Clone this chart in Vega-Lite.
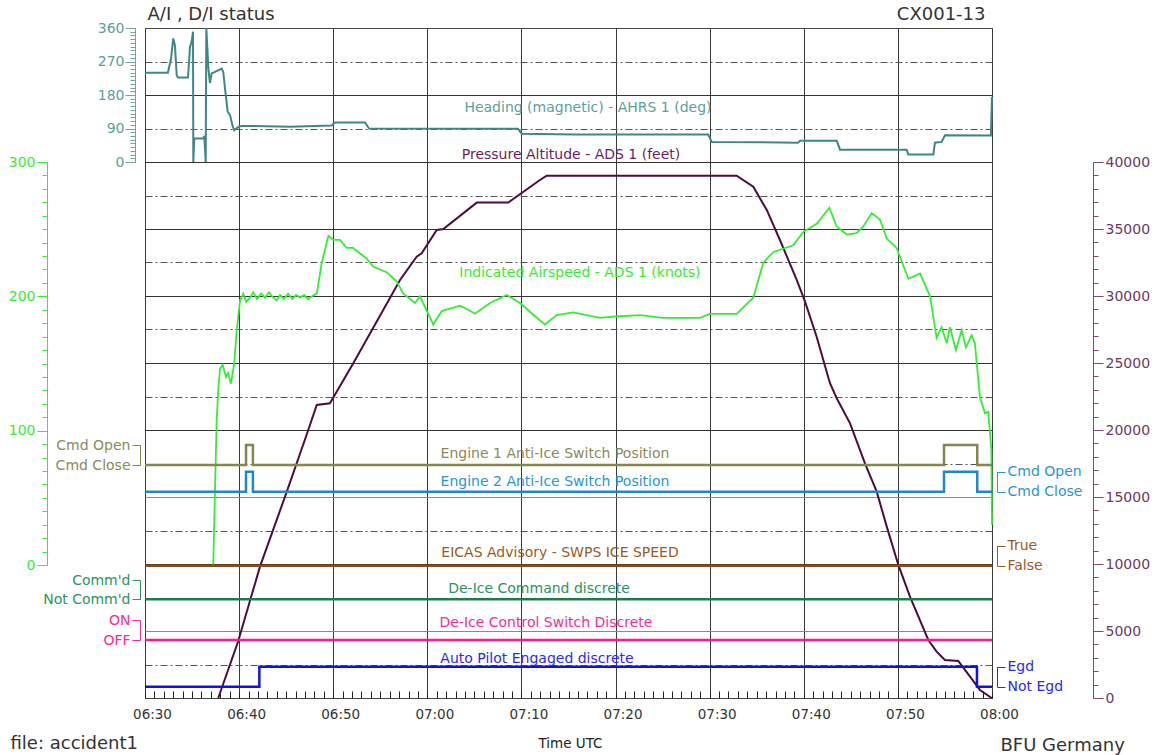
{
"$schema": "https://vega.github.io/schema/vega-lite/v6.json",
"width": 847, "height": 670,
"autosize": {"type": "none"},
"padding": {"left": 145, "top": 28, "right": 170, "bottom": 57},
"background": "white",
"data": {"format": {"parse": {"t": "utc:'%H:%M:%S'"}}, "values": [
{"s":"hdg","t":"06:30:00","v":240},{"s":"hdg","t":"06:32:26","v":240},{"s":"hdg","t":"06:32:46","v":278},{"s":"hdg","t":"06:33:00","v":332},{"s":"hdg","t":"06:33:11","v":313},{"s":"hdg","t":"06:33:22","v":233},{"s":"hdg","t":"06:33:30","v":227},{"s":"hdg","t":"06:34:34","v":227},{"s":"hdg","t":"06:34:47","v":309},{"s":"hdg","t":"06:34:58","v":325},{"s":"hdg","t":"06:35:06","v":350},{"s":"hdg","t":"06:35:08","v":0},{"s":"hdg","t":"06:35:14","v":63},{"s":"hdg","t":"06:36:12","v":63},{"s":"hdg","t":"06:36:18","v":70},{"s":"hdg","t":"06:36:27","v":0},{"s":"hdg","t":"06:36:31","v":360},{"s":"hdg","t":"06:36:44","v":251},{"s":"hdg","t":"06:36:54","v":212},{"s":"hdg","t":"06:37:05","v":238},{"s":"hdg","t":"06:37:26","v":242},{"s":"hdg","t":"06:38:09","v":251},{"s":"hdg","t":"06:38:19","v":242},{"s":"hdg","t":"06:38:30","v":198},{"s":"hdg","t":"06:38:47","v":135},{"s":"hdg","t":"06:39:02","v":126},{"s":"hdg","t":"06:39:17","v":99},{"s":"hdg","t":"06:39:29","v":85},{"s":"hdg","t":"06:39:55","v":94},{"s":"hdg","t":"06:40:16","v":97},{"s":"hdg","t":"06:45:25","v":95},{"s":"hdg","t":"06:49:50","v":98},{"s":"hdg","t":"06:50:11","v":106},{"s":"hdg","t":"06:53:23","v":106},{"s":"hdg","t":"06:53:48","v":90},{"s":"hdg","t":"07:09:38","v":89},{"s":"hdg","t":"07:10:02","v":76},{"s":"hdg","t":"07:15:41","v":74},{"s":"hdg","t":"07:29:51","v":74},{"s":"hdg","t":"07:30:13","v":54},{"s":"hdg","t":"07:39:23","v":52},{"s":"hdg","t":"07:39:36","v":57},{"s":"hdg","t":"07:43:30","v":57},{"s":"hdg","t":"07:43:51","v":33},{"s":"hdg","t":"07:50:56","v":33},{"s":"hdg","t":"07:51:06","v":20},{"s":"hdg","t":"07:53:46","v":20},{"s":"hdg","t":"07:53:56","v":52},{"s":"hdg","t":"07:54:39","v":54},{"s":"hdg","t":"07:55:00","v":72},{"s":"hdg","t":"07:59:53","v":71},{"s":"hdg","t":"08:00:00","v":175},
{"s":"alt","t":"06:37:47","v":0},{"s":"alt","t":"06:39:53","v":4200},{"s":"alt","t":"06:42:13","v":9800},{"s":"alt","t":"06:45:04","v":15400},{"s":"alt","t":"06:47:21","v":20000},{"s":"alt","t":"06:48:15","v":21870},{"s":"alt","t":"06:49:39","v":22000},{"s":"alt","t":"06:52:08","v":24980},{"s":"alt","t":"06:57:06","v":31200},{"s":"alt","t":"06:58:52","v":32930},{"s":"alt","t":"06:59:24","v":33190},{"s":"alt","t":"07:01:00","v":34930},{"s":"alt","t":"07:01:42","v":35000},{"s":"alt","t":"07:05:15","v":36970},{"s":"alt","t":"07:08:36","v":36970},{"s":"alt","t":"07:11:58","v":38660},{"s":"alt","t":"07:12:41","v":38980},{"s":"alt","t":"07:32:52","v":38980},{"s":"alt","t":"07:34:38","v":38160},{"s":"alt","t":"07:36:04","v":36420},{"s":"alt","t":"07:37:28","v":34180},{"s":"alt","t":"07:39:15","v":31200},{"s":"alt","t":"07:40:08","v":29580},{"s":"alt","t":"07:41:22","v":26960},{"s":"alt","t":"07:42:47","v":23490},{"s":"alt","t":"07:43:30","v":22370},{"s":"alt","t":"07:44:55","v":20500},{"s":"alt","t":"07:46:30","v":17510},{"s":"alt","t":"07:47:45","v":15400},{"s":"alt","t":"07:48:49","v":12790},{"s":"alt","t":"07:50:03","v":9930},{"s":"alt","t":"07:51:17","v":7560},{"s":"alt","t":"07:53:14","v":4330},{"s":"alt","t":"07:54:07","v":3460},{"s":"alt","t":"07:55:00","v":2840},{"s":"alt","t":"07:56:25","v":2760},{"s":"alt","t":"07:57:40","v":1590},{"s":"alt","t":"07:58:43","v":600},{"s":"alt","t":"07:59:58","v":0},
{"s":"ias","t":"06:37:15","v":0},{"s":"ias","t":"06:37:26","v":54},{"s":"ias","t":"06:37:37","v":108},{"s":"ias","t":"06:37:47","v":130},{"s":"ias","t":"06:37:58","v":146},{"s":"ias","t":"06:38:15","v":149},{"s":"ias","t":"06:38:36","v":140},{"s":"ias","t":"06:38:49","v":143},{"s":"ias","t":"06:39:08","v":135},{"s":"ias","t":"06:39:29","v":150},{"s":"ias","t":"06:39:45","v":175},{"s":"ias","t":"06:40:06","v":197},{"s":"ias","t":"06:40:27","v":202},{"s":"ias","t":"06:40:45","v":196},{"s":"ias","t":"06:41:10","v":199},{"s":"ias","t":"06:41:30","v":203},{"s":"ias","t":"06:41:54","v":198},{"s":"ias","t":"06:42:20","v":202},{"s":"ias","t":"06:42:45","v":199},{"s":"ias","t":"06:43:10","v":203},{"s":"ias","t":"06:43:30","v":200},{"s":"ias","t":"06:44:00","v":197},{"s":"ias","t":"06:44:21","v":201},{"s":"ias","t":"06:44:45","v":198},{"s":"ias","t":"06:45:12","v":202},{"s":"ias","t":"06:45:40","v":198},{"s":"ias","t":"06:46:03","v":201},{"s":"ias","t":"06:46:30","v":199},{"s":"ias","t":"06:46:54","v":201},{"s":"ias","t":"06:47:20","v":198},{"s":"ias","t":"06:47:45","v":200},{"s":"ias","t":"06:48:15","v":202},{"s":"ias","t":"06:48:47","v":225},{"s":"ias","t":"06:49:29","v":245},{"s":"ias","t":"06:50:01","v":242},{"s":"ias","t":"06:50:43","v":242},{"s":"ias","t":"06:51:26","v":236},{"s":"ias","t":"06:52:06","v":236},{"s":"ias","t":"06:53:34","v":228},{"s":"ias","t":"06:54:16","v":222},{"s":"ias","t":"06:55:41","v":218},{"s":"ias","t":"06:56:45","v":211},{"s":"ias","t":"06:57:27","v":202},{"s":"ias","t":"06:58:41","v":195},{"s":"ias","t":"06:59:13","v":200},{"s":"ias","t":"07:00:38","v":179},{"s":"ias","t":"07:01:32","v":189},{"s":"ias","t":"07:03:28","v":193},{"s":"ias","t":"07:04:20","v":190},{"s":"ias","t":"07:05:04","v":187},{"s":"ias","t":"07:06:40","v":195},{"s":"ias","t":"07:08:26","v":201},{"s":"ias","t":"07:09:51","v":195},{"s":"ias","t":"07:11:58","v":182},{"s":"ias","t":"07:12:30","v":179},{"s":"ias","t":"07:13:45","v":186},{"s":"ias","t":"07:15:31","v":188},{"s":"ias","t":"07:18:21","v":184},{"s":"ias","t":"07:20:00","v":185},{"s":"ias","t":"07:22:36","v":186},{"s":"ias","t":"07:25:00","v":184},{"s":"ias","t":"07:28:58","v":184},{"s":"ias","t":"07:30:02","v":187},{"s":"ias","t":"07:32:52","v":187},{"s":"ias","t":"07:34:38","v":199},{"s":"ias","t":"07:35:42","v":225},{"s":"ias","t":"07:36:46","v":233},{"s":"ias","t":"07:38:53","v":238},{"s":"ias","t":"07:39:57","v":248},{"s":"ias","t":"07:41:22","v":254},{"s":"ias","t":"07:42:43","v":266},{"s":"ias","t":"07:43:30","v":252},{"s":"ias","t":"07:44:34","v":246},{"s":"ias","t":"07:45:37","v":247},{"s":"ias","t":"07:46:20","v":252},{"s":"ias","t":"07:47:13","v":262},{"s":"ias","t":"07:48:06","v":257},{"s":"ias","t":"07:48:49","v":243},{"s":"ias","t":"07:49:52","v":236},{"s":"ias","t":"07:51:07","v":213},{"s":"ias","t":"07:52:21","v":217},{"s":"ias","t":"07:53:25","v":200},{"s":"ias","t":"07:54:07","v":169},{"s":"ias","t":"07:54:39","v":177},{"s":"ias","t":"07:55:11","v":165},{"s":"ias","t":"07:55:32","v":177},{"s":"ias","t":"07:56:10","v":160},{"s":"ias","t":"07:56:47","v":175},{"s":"ias","t":"07:57:14","v":162},{"s":"ias","t":"07:57:50","v":171},{"s":"ias","t":"07:58:11","v":165},{"s":"ias","t":"07:58:43","v":125},{"s":"ias","t":"07:59:15","v":113},{"s":"ias","t":"07:59:36","v":114},{"s":"ias","t":"07:59:56","v":86},{"s":"ias","t":"08:00:00","v":30},
{"s":"e1","t":"06:30:00","v":0},{"s":"e1","t":"06:40:44","v":1},{"s":"e1","t":"06:41:28","v":0},{"s":"e1","t":"07:54:54","v":1},{"s":"e1","t":"07:58:26","v":0},{"s":"e1","t":"08:00:00","v":0},
{"s":"e2","t":"06:30:00","v":0},{"s":"e2","t":"06:40:44","v":1},{"s":"e2","t":"06:41:28","v":0},{"s":"e2","t":"07:54:54","v":1},{"s":"e2","t":"07:58:26","v":0},{"s":"e2","t":"08:00:00","v":0},
{"s":"eicas","t":"06:30:00","v":0},{"s":"eicas","t":"08:00:00","v":0},
{"s":"dcmd","t":"06:30:00","v":0},{"s":"dcmd","t":"08:00:00","v":0},
{"s":"dctl","t":"06:30:00","v":0},{"s":"dctl","t":"08:00:00","v":0},
{"s":"ap","t":"06:30:00","v":0},{"s":"ap","t":"06:42:09","v":1},{"s":"ap","t":"07:58:24","v":0},{"s":"ap","t":"08:00:00","v":0}
]},
"layer": [
{
 "transform": [{"filter": "datum.s === 'e1'"}],
 "mark": {"type": "point", "opacity": 0},
 "encoding": {
  "x": {"field": "t", "type": "temporal", "scale": {"type": "utc", "nice": false, "domain": [{"year":1900,"month":1,"date":1,"hours":6,"minutes":30,"utc":true},{"year":1900,"month":1,"date":1,"hours":8,"minutes":0,"utc":true}]},
   "axis": {"orient": "bottom", "tickCount": 45, "ticks": true, "tickSize": -7, "tickColor": "#222", "tickWidth": 1, "labelPadding": 16, "labelExpr": "utcminutes(datum.value) % 10 === 0 ? utcFormat(datum.value, '%H:%M') : ''", "labelFlush": false, "labelOverlap": false, "labelBound": false, "labelOffset": 7, "labelFontSize": 13.5, "labelColor": "#333", "grid": true, "gridColor": "#3a3a3a", "gridOpacity": {"condition": {"test": "utcminutes(datum.value) % 10 === 0", "value": 1}, "value": 0}, "domain": false, "title": "Time UTC", "titleX": 425, "titleY": 45, "titleAlign": "center", "titleBaseline": "middle", "titleFontSize": 13.5, "titleFontWeight": "normal", "titleColor": "#222"}},
  "y": {"datum": 0, "type": "quantitative", "scale": {"domain": [0, 20], "nice": false},
   "axis": {"orient": "left", "values": [4,8,10,12,14,16,18], "grid": true, "ticks": false, "labels": false, "domain": false, "title": null, "gridColor": "#333", "gridWidth": 1}}
 }
},
{
 "transform": [{"filter": "datum.s === 'e1'"}],
 "mark": {"type": "point", "opacity": 0},
 "encoding": {
  "x": {"field": "t", "type": "temporal", "scale": {"type": "utc", "nice": false, "domain": [{"year":1900,"month":1,"date":1,"hours":6,"minutes":30,"utc":true},{"year":1900,"month":1,"date":1,"hours":8,"minutes":0,"utc":true}]}, "axis": null},
  "y": {"datum": 0, "type": "quantitative", "scale": {"domain": [0, 20], "nice": false},
   "axis": {"orient": "left", "values": [2,6], "grid": true, "ticks": false, "labels": false, "domain": false, "title": null, "gridColor": "#8a8a8a", "gridWidth": 1}}
 }
},
{
 "transform": [{"filter": "datum.s === 'e1'"}],
 "mark": {"type": "point", "opacity": 0},
 "encoding": {
  "x": {"field": "t", "type": "temporal", "scale": {"type": "utc", "nice": false, "domain": [{"year":1900,"month":1,"date":1,"hours":6,"minutes":30,"utc":true},{"year":1900,"month":1,"date":1,"hours":8,"minutes":0,"utc":true}]}, "axis": null},
  "y": {"datum": 0, "type": "quantitative", "scale": {"domain": [0, 20], "nice": false},
   "axis": {"orient": "left", "values": [1,3,5,7,9,11,13,15,17,19], "grid": true, "ticks": false, "labels": false, "domain": false, "title": null, "gridColor": "#555", "gridDash": [7, 3, 2, 3], "gridWidth": 1}}
 }
},
{"transform": [{"filter": "datum.s === 'hdg'"}],
 "mark": {"type": "line", "color": "#3f8785", "strokeWidth": 2},
 "encoding": {
  "x": {"field": "t", "type": "temporal", "scale": {"type": "utc", "nice": false, "domain": [{"year":1900,"month":1,"date":1,"hours":6,"minutes":30,"utc":true},{"year":1900,"month":1,"date":1,"hours":8,"minutes":0,"utc":true}]},
   "axis": {"orient": "top", "title": "CX001-13", "labels": false, "ticks": false, "domain": false, "grid": false, "titleX": 840, "titleY": -14, "titleAlign": "right", "titleBaseline": "middle", "titleFontSize": 18, "titleFontWeight": "normal", "titleColor": "#333"}},
  "y": {"field": "v", "type": "quantitative", "scale": {"domain": [0, 360], "range": [134, 0], "nice": false, "zero": false},
   "axis": {"orient": "left", "offset": 10, "title": null, "grid": false, "values": [0,90,180,270,360], "tickSize": 10, "labelPadding": 1, "labelOverlap": false, "labelFlush": false, "labelBound": false, "labelFontSize": 14, "domainColor": "#6aa6a4", "tickColor": "#6aa6a4", "labelColor": "#5f9e9c"}}
 }},
{"data": {"values": [{}]},
 "mark": {"type": "text", "text": "Heading (magnetic) - AHRS 1 (deg)", "color": "#5aa19e", "fontSize": 14, "font": "DejaVu Sans", "align": "center", "baseline": "middle"},
 "encoding": {"x": {"datum": {"year":1900,"month":1,"date":1,"hours":7,"minutes":17,"seconds":4,"utc":true}, "type": "temporal", "scale": {"type": "utc"}, "axis": null},
  "y": {"datum": 145, "type": "quantitative", "scale": {"domain": [0, 360], "range": [134, 0], "nice": false, "zero": false},
   "axis": {"orient": "left", "offset": 10, "title": null, "grid": false, "domain": false, "labels": false, "values": [0,10,20,30,40,50,60,70,80,90,100,110,120,130,140,150,160,170,180,190,200,210,220,230,240,250,260,270,280,290,300,310,320,330,340,350,360], "tickSize": 5, "tickColor": "#6aa6a4"}}}},
{"transform": [{"filter": "datum.s === 'alt'"}],
 "mark": {"type": "line", "color": "#4b0c40", "strokeWidth": 2},
 "encoding": {
  "x": {"field": "t", "type": "temporal", "scale": {"type": "utc", "nice": false, "domain": [{"year":1900,"month":1,"date":1,"hours":6,"minutes":30,"utc":true},{"year":1900,"month":1,"date":1,"hours":8,"minutes":0,"utc":true}]},
   "axis": {"orient": "bottom", "title": "BFU Germany", "labels": false, "ticks": false, "domain": false, "grid": false, "titleX": 855, "titleY": 47, "titleAlign": "left", "titleBaseline": "middle", "titleFontSize": 18, "titleFontWeight": "normal", "titleColor": "#333"}},
  "y": {"field": "v", "type": "quantitative", "scale": {"domain": [0, 40000], "range": [670, 134], "nice": false, "zero": false},
   "axis": {"orient": "right", "offset": 101, "title": null, "grid": false, "values": [0,5000,10000,15000,20000,25000,30000,35000,40000], "format": "d", "tickSize": 10, "labelPadding": 2, "labelOverlap": false, "labelFlush": false, "labelBound": false, "labelFontSize": 14, "domainColor": "#7a4a72", "tickColor": "#7a4a72", "labelColor": "#6b3a63"}}
 }},
{"data": {"values": [{}]},
 "mark": {"type": "text", "text": "Pressure Altitude - ADS 1 (feet)", "color": "#6a1f5e", "fontSize": 14, "font": "DejaVu Sans", "align": "center", "baseline": "middle"},
 "encoding": {"x": {"datum": {"year":1900,"month":1,"date":1,"hours":7,"minutes":15,"seconds":16,"utc":true}, "type": "temporal", "scale": {"type": "utc"}, "axis": null},
  "y": {"datum": 40520, "type": "quantitative", "scale": {"domain": [0, 40000], "range": [670, 134], "nice": false, "zero": false},
   "axis": {"orient": "right", "offset": 101, "title": null, "grid": false, "domain": false, "labels": false, "values": [0,1000,2000,3000,4000,5000,6000,7000,8000,9000,10000,11000,12000,13000,14000,15000,16000,17000,18000,19000,20000,21000,22000,23000,24000,25000,26000,27000,28000,29000,30000,31000,32000,33000,34000,35000,36000,37000,38000,39000,40000], "tickSize": 5, "tickColor": "#7a4a72"}}}},
{"transform": [{"filter": "datum.s === 'ias'"}],
 "mark": {"type": "line", "color": "#33ee33", "strokeWidth": 1.8},
 "encoding": {
  "x": {"field": "t", "type": "temporal", "scale": {"type": "utc", "nice": false, "domain": [{"year":1900,"month":1,"date":1,"hours":6,"minutes":30,"utc":true},{"year":1900,"month":1,"date":1,"hours":8,"minutes":0,"utc":true}]},
   "axis": {"orient": "bottom", "title": "file: accident1", "labels": false, "ticks": false, "domain": false, "grid": false, "titleX": -135, "titleY": 45, "titleAlign": "left", "titleBaseline": "middle", "titleFontSize": 18, "titleFontWeight": "normal", "titleColor": "#333"}},
  "y": {"field": "v", "type": "quantitative", "scale": {"domain": [0, 300], "range": [537, 134], "nice": false, "zero": false},
   "axis": {"orient": "left", "offset": 98, "title": null, "grid": false, "values": [0,100,200,300], "tickSize": 10, "labelPadding": 2, "labelOverlap": false, "labelFlush": false, "labelBound": false, "labelFontSize": 14, "domainColor": "#33ee33", "tickColor": "#33ee33", "labelColor": "#33ee33"}}
 }},
{"data": {"values": [{}]},
 "mark": {"type": "text", "text": "Indicated Airspeed - ADS 1 (knots)", "color": "#33ee33", "fontSize": 14, "font": "DejaVu Sans", "align": "center", "baseline": "middle"},
 "encoding": {"x": {"datum": {"year":1900,"month":1,"date":1,"hours":7,"minutes":16,"seconds":13,"utc":true}, "type": "temporal", "scale": {"type": "utc"}, "axis": null},
  "y": {"datum": 217, "type": "quantitative", "scale": {"domain": [0, 300], "range": [537, 134], "nice": false, "zero": false},
   "axis": {"orient": "left", "offset": 98, "title": null, "grid": false, "domain": false, "labels": false, "values": [0,10,20,30,40,50,60,70,80,90,100,110,120,130,140,150,160,170,180,190,200,210,220,230,240,250,260,270,280,290,300], "tickSize": 5, "tickColor": "#33ee33"}}}},
{"transform": [{"filter": "datum.s === 'e1'"}],
 "mark": {"type": "line", "color": "#868650", "strokeWidth": 2.5, "interpolate": "step-after"},
 "encoding": {
  "x": {"field": "t", "type": "temporal", "scale": {"type": "utc", "nice": false, "domain": [{"year":1900,"month":1,"date":1,"hours":6,"minutes":30,"utc":true},{"year":1900,"month":1,"date":1,"hours":8,"minutes":0,"utc":true}]},
   "axis": {"orient": "top", "title": "A/I , D/I status", "labels": false, "ticks": false, "domain": false, "grid": false, "titleX": 2, "titleY": -14, "titleAlign": "left", "titleBaseline": "middle", "titleFontSize": 18, "titleFontWeight": "normal", "titleColor": "#333"}},
  "y": {"field": "v", "type": "quantitative", "scale": {"domain": [0, 1], "range": [437, 417], "nice": false, "zero": false},
   "axis": {"orient": "left", "offset": 5, "title": null, "grid": false, "values": [0, 1], "labelExpr": "datum.value === 1 ? 'Cmd Open' : 'Cmd Close'", "tickSize": 8, "labelPadding": 2, "labelOverlap": false, "labelFlush": false, "labelBound": false, "labelFontSize": 14, "domainColor": "#868650", "tickColor": "#868650", "labelColor": "#8a8a5a"}}
 }},
{"data": {"values": [{}]},
 "mark": {"type": "text", "text": "Engine 1 Anti-Ice Switch Position", "color": "#8a8a5a", "fontSize": 14, "font": "DejaVu Sans", "align": "center", "baseline": "middle"},
 "encoding": {"x": {"datum": {"year":1900,"month":1,"date":1,"hours":7,"minutes":13,"seconds":34,"utc":true}, "type": "temporal", "scale": {"type": "utc"}, "axis": null},
  "y": {"datum": 0.55, "type": "quantitative", "scale": {"domain": [0, 1], "range": [437, 417], "nice": false, "zero": false}, "axis": null}}},
{"transform": [{"filter": "datum.s === 'e2'"}],
 "mark": {"type": "line", "color": "#1f88cc", "strokeWidth": 2.5, "interpolate": "step-after"},
 "encoding": {
  "x": {"field": "t", "type": "temporal", "scale": {"type": "utc", "nice": false, "domain": [{"year":1900,"month":1,"date":1,"hours":6,"minutes":30,"utc":true},{"year":1900,"month":1,"date":1,"hours":8,"minutes":0,"utc":true}]}, "axis": null},
  "y": {"field": "v", "type": "quantitative", "scale": {"domain": [0, 1], "range": [463.7, 443.7], "nice": false, "zero": false},
   "axis": {"orient": "right", "offset": 5, "title": null, "grid": false, "values": [0, 1], "labelExpr": "datum.value === 1 ? 'Cmd Open' : 'Cmd Close'", "tickSize": 8, "labelPadding": 2, "labelOverlap": false, "labelFlush": false, "labelBound": false, "labelFontSize": 14, "domainColor": "#2a95d8", "tickColor": "#2a95d8", "labelColor": "#2a95d8"}}
 }},
{"data": {"values": [{}]},
 "mark": {"type": "text", "text": "Engine 2 Anti-Ice Switch Position", "color": "#2a95d8", "fontSize": 14, "font": "DejaVu Sans", "align": "center", "baseline": "middle"},
 "encoding": {"x": {"datum": {"year":1900,"month":1,"date":1,"hours":7,"minutes":13,"seconds":34,"utc":true}, "type": "temporal", "scale": {"type": "utc"}, "axis": null},
  "y": {"datum": 0.49, "type": "quantitative", "scale": {"domain": [0, 1], "range": [463.7, 443.7], "nice": false, "zero": false}, "axis": null}}},
{"transform": [{"filter": "datum.s === 'eicas'"}],
 "mark": {"type": "line", "color": "#8b4c16", "strokeWidth": 2.5, "interpolate": "step-after"},
 "encoding": {
  "x": {"field": "t", "type": "temporal", "scale": {"type": "utc", "nice": false, "domain": [{"year":1900,"month":1,"date":1,"hours":6,"minutes":30,"utc":true},{"year":1900,"month":1,"date":1,"hours":8,"minutes":0,"utc":true}]}, "axis": null},
  "y": {"field": "v", "type": "quantitative", "scale": {"domain": [0, 1], "range": [537.7, 517.7], "nice": false, "zero": false},
   "axis": {"orient": "right", "offset": 5, "title": null, "grid": false, "values": [0, 1], "labelExpr": "datum.value === 1 ? 'True' : 'False'", "tickSize": 8, "labelPadding": 2, "labelOverlap": false, "labelFlush": false, "labelBound": false, "labelFontSize": 14, "domainColor": "#9b5a22", "tickColor": "#9b5a22", "labelColor": "#9b5a22"}}
 }},
{"data": {"values": [{}]},
 "mark": {"type": "text", "text": "EICAS Advisory - SWPS ICE SPEED", "color": "#9b5a22", "fontSize": 14, "font": "DejaVu Sans", "align": "center", "baseline": "middle"},
 "encoding": {"x": {"datum": {"year":1900,"month":1,"date":1,"hours":7,"minutes":14,"seconds":6,"utc":true}, "type": "temporal", "scale": {"type": "utc"}, "axis": null},
  "y": {"datum": 0.63, "type": "quantitative", "scale": {"domain": [0, 1], "range": [537.7, 517.7], "nice": false, "zero": false}, "axis": null}}},
{"transform": [{"filter": "datum.s === 'dcmd'"}],
 "mark": {"type": "line", "color": "#168048", "strokeWidth": 2.5, "interpolate": "step-after"},
 "encoding": {
  "x": {"field": "t", "type": "temporal", "scale": {"type": "utc", "nice": false, "domain": [{"year":1900,"month":1,"date":1,"hours":6,"minutes":30,"utc":true},{"year":1900,"month":1,"date":1,"hours":8,"minutes":0,"utc":true}]}, "axis": null},
  "y": {"field": "v", "type": "quantitative", "scale": {"domain": [0, 1], "range": [571.3, 552], "nice": false, "zero": false},
   "axis": {"orient": "left", "offset": 5, "title": null, "grid": false, "values": [0, 1], "labelExpr": "datum.value === 1 ? 'Comm\\'d' : 'Not Comm\\'d'", "tickSize": 8, "labelPadding": 2, "labelOverlap": false, "labelFlush": false, "labelBound": false, "labelFontSize": 14, "domainColor": "#2a9560", "tickColor": "#2a9560", "labelColor": "#2a9560"}}
 }},
{"data": {"values": [{}]},
 "mark": {"type": "text", "text": "De-Ice Command discrete", "color": "#2a9560", "fontSize": 14, "font": "DejaVu Sans", "align": "center", "baseline": "middle"},
 "encoding": {"x": {"datum": {"year":1900,"month":1,"date":1,"hours":7,"minutes":11,"seconds":52,"utc":true}, "type": "temporal", "scale": {"type": "utc"}, "axis": null},
  "y": {"datum": 0.53, "type": "quantitative", "scale": {"domain": [0, 1], "range": [571.3, 552], "nice": false, "zero": false}, "axis": null}}},
{"transform": [{"filter": "datum.s === 'dctl'"}],
 "mark": {"type": "line", "color": "#ff1a85", "strokeWidth": 2.5, "interpolate": "step-after"},
 "encoding": {
  "x": {"field": "t", "type": "temporal", "scale": {"type": "utc", "nice": false, "domain": [{"year":1900,"month":1,"date":1,"hours":6,"minutes":30,"utc":true},{"year":1900,"month":1,"date":1,"hours":8,"minutes":0,"utc":true}]}, "axis": null},
  "y": {"field": "v", "type": "quantitative", "scale": {"domain": [0, 1], "range": [612, 592], "nice": false, "zero": false},
   "axis": {"orient": "left", "offset": 5, "title": null, "grid": false, "values": [0, 1], "labelExpr": "datum.value === 1 ? 'ON' : 'OFF'", "tickSize": 8, "labelPadding": 2, "labelOverlap": false, "labelFlush": false, "labelBound": false, "labelFontSize": 14, "domainColor": "#ff2a90", "tickColor": "#ff2a90", "labelColor": "#ff2a90"}}
 }},
{"data": {"values": [{}]},
 "mark": {"type": "text", "text": "De-Ice Control Switch Discrete", "color": "#ff2a90", "fontSize": 14, "font": "DejaVu Sans", "align": "center", "baseline": "middle"},
 "encoding": {"x": {"datum": {"year":1900,"month":1,"date":1,"hours":7,"minutes":12,"seconds":36,"utc":true}, "type": "temporal", "scale": {"type": "utc"}, "axis": null},
  "y": {"datum": 0.85, "type": "quantitative", "scale": {"domain": [0, 1], "range": [612, 592], "nice": false, "zero": false}, "axis": null}}},
{"transform": [{"filter": "datum.s === 'ap'"}],
 "mark": {"type": "line", "color": "#1010ee", "strokeWidth": 2.5, "interpolate": "step-after"},
 "encoding": {
  "x": {"field": "t", "type": "temporal", "scale": {"type": "utc", "nice": false, "domain": [{"year":1900,"month":1,"date":1,"hours":6,"minutes":30,"utc":true},{"year":1900,"month":1,"date":1,"hours":8,"minutes":0,"utc":true}]}, "axis": null},
  "y": {"field": "v", "type": "quantitative", "scale": {"domain": [0, 1], "range": [658.7, 638.7], "nice": false, "zero": false},
   "axis": {"orient": "right", "offset": 5, "title": null, "grid": false, "values": [0, 1], "labelExpr": "datum.value === 1 ? 'Egd' : 'Not Egd'", "tickSize": 8, "labelPadding": 2, "labelOverlap": false, "labelFlush": false, "labelBound": false, "labelFontSize": 14, "domainColor": "#2828ff", "tickColor": "#2828ff", "labelColor": "#2828ff"}}
 }},
{"data": {"values": [{}]},
 "mark": {"type": "text", "text": "Auto Pilot Engaged discrete", "color": "#2828ff", "fontSize": 14, "font": "DejaVu Sans", "align": "center", "baseline": "middle"},
 "encoding": {"x": {"datum": {"year":1900,"month":1,"date":1,"hours":7,"minutes":11,"seconds":39,"utc":true}, "type": "temporal", "scale": {"type": "utc"}, "axis": null},
  "y": {"datum": 1.385, "type": "quantitative", "scale": {"domain": [0, 1], "range": [658.7, 638.7], "nice": false, "zero": false}, "axis": null}}}
],
"resolve": {"scale": {"y": "independent"}, "axis": {"y": "independent", "x": "independent"}},
"config": {
 "view": {"stroke": "#444", "strokeWidth": 1},
 "font": "DejaVu Sans",
 "axis": {"labelFont": "DejaVu Sans", "titleFont": "DejaVu Sans", "titleFontWeight": "normal"}
}
}
